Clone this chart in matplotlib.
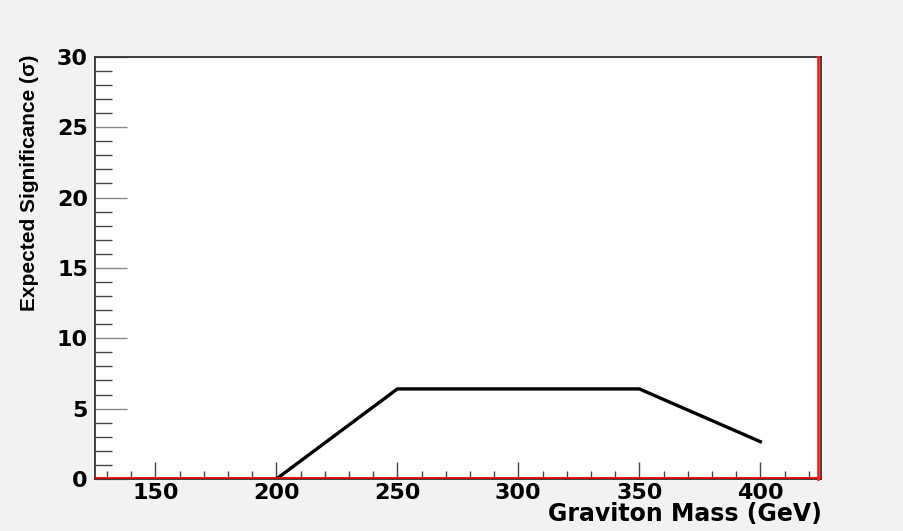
import matplotlib
matplotlib.use('Agg')
import matplotlib.pyplot as plt
from matplotlib.ticker import MultipleLocator

# graviton mass points and expected significance
mass = [200, 250, 350, 400]
signif = [0.0, 6.4, 6.4, 2.65]

x_ticks = [150, 200, 250, 300, 350, 400]
y_ticks = [0, 5, 10, 15, 20, 25, 30]

bg = '#f2f2f2'
fig = plt.figure(figsize=(9.04, 5.31), dpi=100, facecolor=bg)
ax = fig.add_axes([0.105, 0.098, 0.803, 0.795])
ax.set_facecolor('white')

ax.plot(mass, signif, color='black', lw=2.4, zorder=3)
# red frame lines along the bottom and right edge
ax.axhline(0.05, color='#e00000', lw=1.3, zorder=4, clip_on=False)
ax.axvline(424.0, color='#ff2020', lw=2.0, zorder=4, clip_on=False)

ax.set_xlim(125, 425)
ax.set_ylim(0, 30)
ax.set_xticks(x_ticks)
ax.set_yticks(y_ticks)
ax.xaxis.set_minor_locator(MultipleLocator(10))
ax.yaxis.set_minor_locator(MultipleLocator(1))
ax.tick_params(axis='x', which='major', direction='in', length=12, color='#444444', width=1,
               labelsize=16, pad=3)
ax.tick_params(axis='x', which='minor', direction='in', length=6, color='#444444', width=1)
ax.tick_params(axis='y', which='major', direction='in', length=23, color='#888888', width=1,
               labelsize=16, pad=5)
ax.tick_params(axis='y', which='minor', direction='in', length=12, color='#444444', width=1)
ax.tick_params(top=False, right=False, which='both')
for lab in ax.get_xticklabels() + ax.get_yticklabels():
    lab.set_fontfamily(['DejaVu Sans'])
    lab.set_fontweight('bold')
for s in ax.spines.values():
    s.set_color('#333333')
    s.set_linewidth(1.3)

fig.text(0.909, 0.018, 'Graviton Mass (GeV)', ha='right', va='baseline',
         fontsize=17, fontweight='bold', family=['DejaVu Sans'])
fig.text(0.033, 0.897, 'Expected Significance (σ)', ha='center', va='top', rotation=90,
         fontsize=15, fontweight='bold', family=['Liberation Sans', 'DejaVu Sans'])

fig.savefig('out.png', dpi=100, facecolor=bg)
